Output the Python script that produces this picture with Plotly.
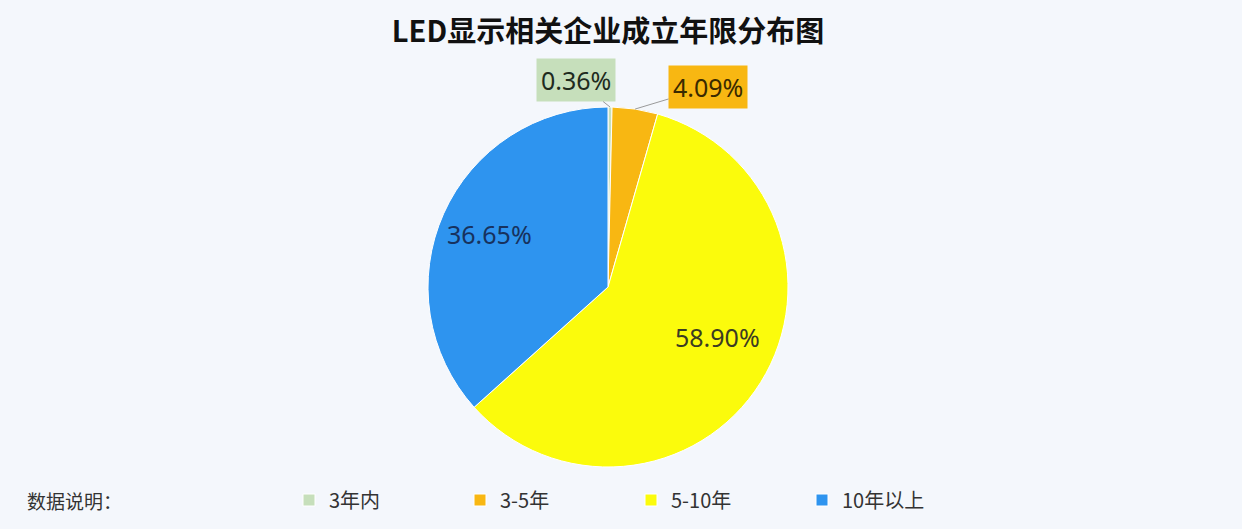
import math
import plotly.graph_objects as go

# 成立年限分布
labels = ["3年内", "3-5年", "5-10年", "10年以上"]
values = [0.36, 4.09, 58.90, 36.65]
colors = ["#c6dfbb", "#f8b712", "#fbfb0c", "#2e94ef"]
text_colors = ["#1e2b1e", "#3a2a00", "#3b3b22", "#17325e"]

W, H = 1242, 529
# pie placement (pixels)
cx, cy, R = 608, 287, 180

# thin slices get boxed labels outside, big ones a label inside
small = [v < 5 for v in values]

fig = go.Figure(go.Pie(
    labels=labels,
    values=values,
    textinfo="none",
    marker=dict(colors=colors, line=dict(color="#ffffff", width=1)),
    sort=False,
    direction="clockwise",
    rotation=0,
    hoverinfo="label+percent",
    domain=dict(x=[(cx - R) / W, (cx + R) / W],
                y=[(H - cy - R) / H, (H - cy + R) / H]),
))

offsets = {0: (-34, -27), 1: (73, -22)}
total = sum(values)
cum = 0
for i, v in enumerate(values):
    mid = (cum + v / 2) / total * 2 * math.pi
    cum += v
    if small[i]:
        px = cx + R * math.sin(mid)
        py = cy - R * math.cos(mid)
        ax, ay = offsets[i]
        fig.add_annotation(
            x=px / W, y=(H - py) / H, xref="paper", yref="paper",
            text=f"{v:.2f}%", showarrow=True, arrowhead=0, arrowwidth=1,
            arrowcolor="#9a9a9a", ax=ax, ay=ay, standoff=0,
            bgcolor=colors[i], borderpad=4,
            font=dict(family="Noto Sans", size=25, color=text_colors[i]),
        )
    else:
        px = cx + 0.72 * R * math.sin(mid)
        py = cy - 0.72 * R * math.cos(mid)
        fig.add_annotation(
            x=px / W, y=(H - py) / H, xref="paper", yref="paper",
            text=f"{v:.2f}%", showarrow=False,
            font=dict(family="Noto Sans", size=25, color=text_colors[i]),
        )

fig.add_annotation(
    x=25 / W, y=(H - 500) / H, xref="paper", yref="paper",
    xanchor="left", yanchor="middle", showarrow=False,
    text="数据说明：", font=dict(family="Noto Sans CJK SC", size=19, color="#333333"),
)

fig.update_layout(
    width=W, height=H,
    margin=dict(l=0, r=0, t=0, b=0),
    paper_bgcolor="#f4f7fc",
    plot_bgcolor="#f4f7fc",
    title=dict(text="<b>LED显示相关企业成立年限分布图</b>", x=cx / W, xanchor="center",
               y=1 - 32 / H, yanchor="middle", yref="container",
               font=dict(family="Noto Sans CJK SC", size=29, color="#111111")),
    legend=dict(orientation="h", x=289 / W, xanchor="left",
                y=(H - 500) / H, yanchor="middle",
                font=dict(family="Noto Sans CJK SC", size=20, color="#333333"),
                entrywidth=126, bgcolor="rgba(0,0,0,0)"),
)

fig.write_html("out.html", config={"displayModeBar": False},
               post_script="document.body.style.margin='0';")
